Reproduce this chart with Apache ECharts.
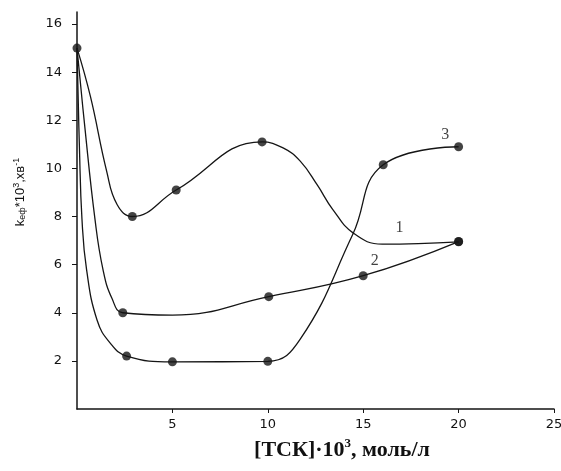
<!DOCTYPE html>
<html>
<head>
<meta charset="utf-8">
<script src="https://cdn.jsdelivr.net/npm/echarts@6/dist/echarts.min.js"></script>
<style>
  html, body { margin: 0; padding: 0; background: #fff; }
  #chart { width: 561px; height: 471px; }
</style>
</head>
<body>
<div id="chart"></div>
<script>
// curve shapes: [ТСК]*10^3, k*10^3
const curve1 = [[0, 15], [0.7, 13.0], [1.55, 9.9], [2.1, 8.5], [2.9, 8.0], [5.2, 9.1], [9.7, 11.1], [10.8, 10.85], [11.7, 10.3],
  [12.6, 9.3], [13.4, 8.3], [14.5, 7.3], [16, 6.85], [20, 6.95]];
const curve2 = [[0, 15], [0.4, 11.8], [0.94, 7.9], [1.36, 5.8], [1.83, 4.6], [2.4, 4.0], [5, 3.9],
  [10.05, 4.67], [15, 5.54], [20, 6.96]];
const curve3 = [[0, 15], [0.13, 10.8], [0.26, 7.9], [0.5, 5.8], [1.05, 3.7], [1.73, 2.75], [2.6, 2.2], [5, 1.96], [10, 1.98],
  [11.7, 2.9], [14.45, 7.25], [16.05, 10.15], [20, 10.9]];

// measured points (dots)
const dots1 = [[0, 15], [2.9, 8.0], [5.2, 9.1], [9.7, 11.1], [20, 6.95]];
const dots2 = [[2.4, 4.0], [10.05, 4.67], [15, 5.54], [20, 6.96]];
const dots3 = [[2.6, 2.2], [5, 1.96], [10, 1.98], [16.05, 10.15], [20, 10.9]];

// curve numbers and where they sit
const curveLabels = ['1', '2', '3'];
const labelSpots = [[16.9, 7.55], [15.6, 6.15], [19.3, 11.4]];

const xTicks = [5, 10, 15, 20, 25];
const yTicks = [2, 4, 6, 8, 10, 12, 14, 16];

const ink = '#151515';

function lineSeries(data) {
  return {
    type: 'line',
    data: data,
    smooth: 0.45,
    symbol: 'none',
    lineStyle: { color: ink, width: 1.3 },
    z: 2
  };
}

function dotSeries(data) {
  return {
    type: 'scatter',
    data: data,
    symbol: 'circle',
    symbolSize: 9,
    itemStyle: { color: ink },
    z: 3
  };
}

const option = {
  animation: false,
  grid: { left: 77, right: 7, top: 12, bottom: 62, outerBoundsMode: 'none', containLabel: false },
  xAxis: {
    type: 'value',
    min: 0,
    max: 25,
    axisLine: { lineStyle: { color: ink, width: 1.5 } },
    axisTick: { customValues: xTicks, length: 4, lineStyle: { color: ink } },
    axisLabel: { customValues: xTicks, color: '#111', fontSize: 13, fontFamily: 'DejaVu Sans', margin: 9 },
    splitLine: { show: false }
  },
  yAxis: {
    type: 'value',
    min: 0,
    max: 16.5,
    axisLine: { show: true, lineStyle: { color: ink, width: 1.5 } },
    axisTick: { show: true, customValues: yTicks, length: 5, lineStyle: { color: ink } },
    axisLabel: { customValues: yTicks, color: '#111', fontSize: 13, fontFamily: 'DejaVu Sans', margin: 15 },
    splitLine: { show: false }
  },
  graphic: [
    {
      type: 'text',
      x: 20,
      y: 192,
      rotation: Math.PI / 2,
      style: {
        text: 'k{sub|еф}*10{sup|3},хв{sup|-1}',
        font: '13px Liberation Sans',
        fill: '#111',
        align: 'center',
        verticalAlign: 'middle',
        rich: {
          sub: { fontSize: 9, verticalAlign: 'bottom', padding: [6, 0, 0, 0] },
          sup: { fontSize: 9, verticalAlign: 'top', padding: [0, 0, 6, 0] }
        }
      }
    },
    {
      type: 'text',
      x: 342,
      y: 449,
      style: {
        text: '{m|[ТСК]·10}{sup|3}{m|, моль/л}',
        fill: '#111',
        align: 'center',
        verticalAlign: 'middle',
        rich: {
          m: { fontSize: 22, fontWeight: 'bold', fontFamily: 'Liberation Serif', lineHeight: 24, verticalAlign: 'bottom' },
          sup: { fontSize: 13, fontWeight: 'bold', fontFamily: 'Liberation Serif', lineHeight: 13, verticalAlign: 'top' }
        }
      }
    }
  ],
  series: [
    lineSeries(curve1),
    lineSeries(curve2),
    lineSeries(curve3),
    dotSeries(dots1),
    dotSeries(dots2),
    dotSeries(dots3),
    {
      type: 'scatter',
      data: labelSpots.map((p, i) => ({ value: p, name: curveLabels[i] })),
      symbolSize: 0,
      label: {
        show: true,
        position: 'inside',
        formatter: '{b}',
        color: '#111',
        fontSize: 16,
        fontFamily: 'Liberation Serif'
      },
      z: 4
    }
  ]
};

const myChart = echarts.init(document.getElementById('chart'));
myChart.setOption(option);
</script>
</body>
</html>
